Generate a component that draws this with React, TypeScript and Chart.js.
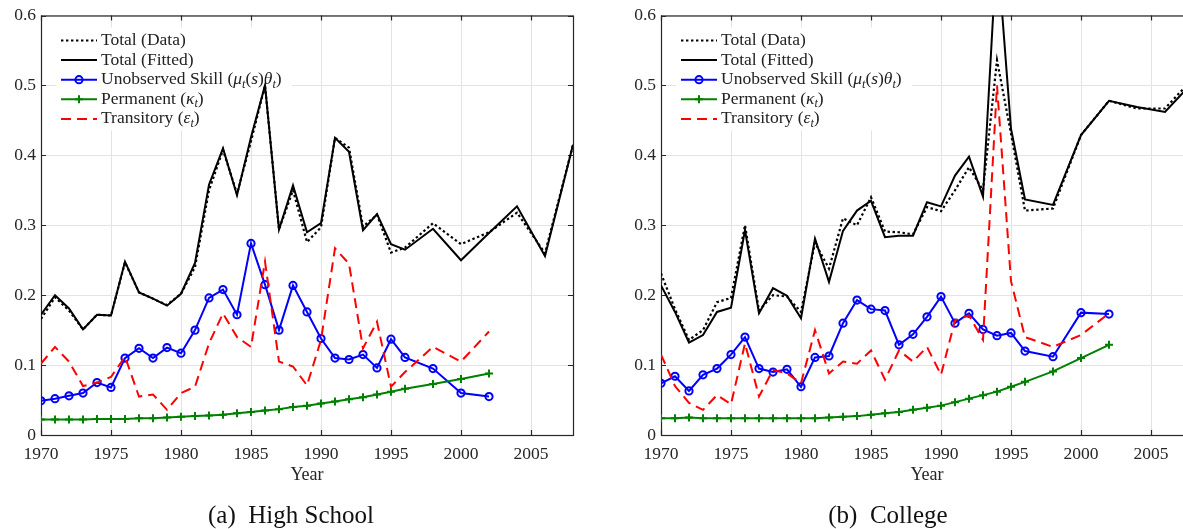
import React, { useEffect, useRef } from "react";
import { Chart, registerables } from "chart.js";

Chart.register(...registerables);

// ---------- data ----------
const yearsComp = [
  1970, 1971, 1972, 1973, 1974, 1975, 1976, 1977, 1978, 1979, 1980, 1981, 1982, 1983, 1984,
  1985, 1986, 1987, 1988, 1989, 1990, 1991, 1992, 1993, 1994, 1995, 1996, 1998, 2000, 2002,
];
const yearsTotal = [...yearsComp, 2004, 2006, 2008];

const xTickValues = [1970, 1975, 1980, 1985, 1990, 1995, 2000, 2005];
const yTickValues = [0, 0.1, 0.2, 0.3, 0.4, 0.5, 0.6];

// High School
const hsTotalData = [
  0.166, 0.197, 0.178, 0.151, 0.172, 0.171, 0.247, 0.204, 0.195, 0.186, 0.202, 0.24, 0.35, 0.408,
  0.345, 0.42, 0.5, 0.294, 0.35, 0.276, 0.297, 0.425, 0.411, 0.298, 0.315, 0.261, 0.268, 0.303,
  0.273, 0.29, 0.318, 0.26, 0.415,
];
const hsTotalFit = [
  0.172, 0.2, 0.181, 0.151, 0.172, 0.171, 0.248, 0.204, 0.195, 0.185, 0.202, 0.246, 0.358, 0.41,
  0.343, 0.426, 0.5, 0.294, 0.357, 0.29, 0.303, 0.425, 0.405, 0.293, 0.316, 0.273, 0.265, 0.295,
  0.25, 0.289, 0.327, 0.256, 0.415,
];
const hsSkill = [
  0.049, 0.052, 0.056, 0.06, 0.075, 0.068, 0.11, 0.124, 0.11, 0.125, 0.117, 0.15, 0.196, 0.208,
  0.172, 0.274, 0.215, 0.15, 0.214, 0.176, 0.138, 0.11, 0.108, 0.115, 0.096, 0.137, 0.111, 0.095,
  0.06, 0.055,
];
const hsPermanent = [
  0.022, 0.022, 0.022, 0.022, 0.023, 0.023, 0.023, 0.024, 0.024, 0.025, 0.026, 0.027, 0.028, 0.029,
  0.031, 0.033, 0.035, 0.037, 0.04, 0.042, 0.045, 0.048, 0.051, 0.054, 0.058, 0.062, 0.066, 0.073,
  0.08, 0.088,
];
const hsTransitory = [
  0.102, 0.126, 0.105, 0.07, 0.075, 0.083, 0.112, 0.055, 0.058, 0.036, 0.06, 0.069, 0.131, 0.174,
  0.14, 0.126, 0.248, 0.105, 0.098, 0.071, 0.136, 0.267, 0.245, 0.124, 0.162, 0.069, 0.09, 0.126,
  0.105, 0.148,
];

// College
const colTotalData = [
  0.231, 0.18, 0.136, 0.15, 0.19, 0.196, 0.3, 0.178, 0.2, 0.198, 0.176, 0.275, 0.238, 0.31, 0.3,
  0.34, 0.291, 0.29, 0.287, 0.326, 0.32, 0.35, 0.383, 0.35, 0.536, 0.431, 0.321, 0.324, 0.429,
  0.478, 0.467, 0.467, 0.51,
];
const colTotalFit = [
  0.214, 0.176, 0.132, 0.143, 0.176, 0.182, 0.293, 0.174, 0.21, 0.199, 0.167, 0.281, 0.219, 0.292,
  0.321, 0.335, 0.283, 0.285, 0.285, 0.333, 0.327, 0.371, 0.398, 0.341, 0.7, 0.438, 0.337, 0.329,
  0.429, 0.478, 0.469, 0.462, 0.505,
];
const colSkill = [
  0.074, 0.084, 0.063, 0.086, 0.095, 0.115, 0.14, 0.095, 0.09, 0.094, 0.069, 0.111, 0.113, 0.16,
  0.193, 0.18, 0.178, 0.129, 0.144, 0.169, 0.198, 0.16, 0.174, 0.151, 0.142, 0.146, 0.12, 0.112,
  0.175, 0.173,
];
const colPermanent = [
  0.024, 0.024, 0.025, 0.024, 0.024, 0.024, 0.024, 0.024, 0.024, 0.024, 0.024, 0.024, 0.025, 0.026,
  0.027, 0.029, 0.031, 0.033, 0.036, 0.039, 0.042, 0.047, 0.052, 0.057, 0.062, 0.069, 0.076, 0.091,
  0.11, 0.129,
];
const colTransitory = [
  0.115, 0.07, 0.046, 0.036, 0.057, 0.044, 0.131, 0.055, 0.093, 0.088, 0.074, 0.15, 0.088, 0.105,
  0.102, 0.121, 0.079, 0.121, 0.105, 0.126, 0.086, 0.164, 0.171, 0.136, 0.5, 0.22, 0.14, 0.126,
  0.143, 0.174,
];

const xAxisTitle = "Year";
const captionA = "(a)\u2002High School";
const captionB = "(b)\u2002College";

type Seg = { t: string; it?: boolean; sub?: boolean };
const legendEntries: { kind: string; segs: Seg[] }[] = [
  { kind: "data", segs: [{ t: "Total (Data)" }] },
  { kind: "fit", segs: [{ t: "Total (Fitted)" }] },
  {
    kind: "skill",
    segs: [
      { t: "Unobserved Skill (" },
      { t: "μ", it: true },
      { t: "t", it: true, sub: true },
      { t: "(" },
      { t: "s", it: true },
      { t: ")" },
      { t: "θ", it: true },
      { t: "t", it: true, sub: true },
      { t: ")" },
    ],
  },
  {
    kind: "perm",
    segs: [{ t: "Permanent (" }, { t: "κ", it: true }, { t: "t", it: true, sub: true }, { t: ")" }],
  },
  {
    kind: "trans",
    segs: [{ t: "Transitory (" }, { t: "ε", it: true }, { t: "t", it: true, sub: true }, { t: ")" }],
  },
];

// ---------- styling ----------
const FONT = '"Liberation Serif", "Times New Roman", serif';
const AXIS = "#262626";
const GRID = "#e3e3e3";
const BLUE = "#0000ff";
const GREEN = "#008000";
const RED = "#ff0000";
const DOT_DASH = [2.4, 2.6];
const RED_DASH = [10, 6];

function pts(xs: number[], ys: number[]) {
  return xs.map((x, i) => ({ x, y: ys[i] }));
}

function drawRich(ctx: CanvasRenderingContext2D, segs: Seg[], x: number, y: number, size: number) {
  let cx = x;
  for (const s of segs) {
    const sz = s.sub ? size * 0.7 : size;
    ctx.font = `${s.it ? "italic " : ""}${sz}px ${FONT}`;
    ctx.fillText(s.t, cx, s.sub ? y + size * 0.2 : y);
    cx += ctx.measureText(s.t).width;
  }
}

function drawMarker(ctx: CanvasRenderingContext2D, kind: string, x: number, y: number) {
  if (kind === "skill") {
    ctx.beginPath();
    ctx.setLineDash([]);
    ctx.strokeStyle = BLUE;
    ctx.lineWidth = 2;
    ctx.arc(x, y, 3.6, 0, Math.PI * 2);
    ctx.stroke();
  } else if (kind === "perm") {
    ctx.beginPath();
    ctx.setLineDash([]);
    ctx.strokeStyle = GREEN;
    ctx.lineWidth = 2;
    ctx.moveTo(x - 4, y);
    ctx.lineTo(x + 4, y);
    ctx.moveTo(x, y - 4);
    ctx.lineTo(x, y + 4);
    ctx.stroke();
  }
}

const framePlugin = {
  id: "matlabFrame",
  beforeDatasetsDraw(chart: any) {
    const { ctx, chartArea: a, scales } = chart;
    ctx.save();
    // legend background (hides grid)
    ctx.fillStyle = "#fff";
    ctx.fillRect(a.left + 15, a.top + 12, 236, 103);

    // axes box
    ctx.strokeStyle = AXIS;
    ctx.lineWidth = 1.2;
    ctx.setLineDash([]);
    ctx.strokeRect(a.left + 0.5, a.top + 0.5, a.right - a.left, a.bottom - a.top);

    // inward ticks
    ctx.beginPath();
    for (const v of xTickValues) {
      const px = Math.round(scales.x.getPixelForValue(v)) + 0.5;
      ctx.moveTo(px, a.bottom);
      ctx.lineTo(px, a.bottom - 5);
      ctx.moveTo(px, a.top);
      ctx.lineTo(px, a.top + 5);
    }
    for (const v of yTickValues) {
      const py = Math.round(scales.y.getPixelForValue(v)) + 0.5;
      ctx.moveTo(a.left, py);
      ctx.lineTo(a.left + 5, py);
      ctx.moveTo(a.right, py);
      ctx.lineTo(a.right - 5, py);
    }
    ctx.stroke();

    // x-axis title
    ctx.fillStyle = AXIS;
    ctx.font = `18px ${FONT}`;
    ctx.textAlign = "center";
    ctx.textBaseline = "alphabetic";
    ctx.fillText(xAxisTitle, (a.left + a.right) / 2, a.bottom + 45);

    // legend
    const x0 = a.left + 20;
    const x1 = a.left + 56;
    const tx = a.left + 60;
    ctx.textAlign = "left";
    legendEntries.forEach((e, i) => {
      const y = a.top + 25 + i * 19.6;
      ctx.beginPath();
      ctx.lineWidth = 2;
      if (e.kind === "data") {
        ctx.strokeStyle = "#000";
        ctx.setLineDash(DOT_DASH);
      } else if (e.kind === "fit") {
        ctx.strokeStyle = "#000";
        ctx.setLineDash([]);
      } else if (e.kind === "skill") {
        ctx.strokeStyle = BLUE;
        ctx.setLineDash([]);
      } else if (e.kind === "perm") {
        ctx.strokeStyle = GREEN;
        ctx.setLineDash([]);
      } else {
        ctx.strokeStyle = RED;
        ctx.setLineDash(RED_DASH);
      }
      ctx.moveTo(x0, y);
      ctx.lineTo(x1, y);
      ctx.stroke();
      drawMarker(ctx, e.kind, (x0 + x1) / 2, y);
      ctx.fillStyle = "#222";
      drawRich(ctx, e.segs, tx, y + 4.5, 17.5);
    });
    ctx.restore();
  },
};

function buildConfig(
  totalData: number[],
  totalFit: number[],
  skill: number[],
  perm: number[],
  trans: number[]
): any {
  return {
    type: "line",
    data: {
      datasets: [
        {
          label: "Transitory",
          data: pts(yearsComp, trans),
          borderColor: RED,
          borderWidth: 2,
          borderDash: RED_DASH,
          pointRadius: 0,
          tension: 0,
        },
        {
          label: "Permanent",
          data: pts(yearsComp, perm),
          borderColor: GREEN,
          borderWidth: 2,
          pointStyle: "cross",
          pointRadius: 4,
          pointBorderWidth: 2,
          pointBorderColor: GREEN,
          pointBackgroundColor: GREEN,
          tension: 0,
        },
        {
          label: "Unobserved Skill",
          data: pts(yearsComp, skill),
          borderColor: BLUE,
          borderWidth: 2,
          pointStyle: "circle",
          pointRadius: 3.6,
          pointBorderWidth: 2,
          pointBorderColor: BLUE,
          pointBackgroundColor: "rgba(0,0,0,0)",
          tension: 0,
        },
        {
          label: "Total (Fitted)",
          data: pts(yearsTotal, totalFit),
          borderColor: "#000",
          borderWidth: 2,
          pointRadius: 0,
          tension: 0,
        },
        {
          label: "Total (Data)",
          data: pts(yearsTotal, totalData),
          borderColor: "#000",
          borderWidth: 2.2,
          borderDash: DOT_DASH,
          pointRadius: 0,
          tension: 0,
        },
      ],
    },
    options: {
      responsive: false,
      animation: false,
      events: [],
      layout: { padding: { left: 0, top: 15, right: 27, bottom: 0 } },
      plugins: { legend: { display: false }, tooltip: { enabled: false } },
      scales: {
        x: {
          type: "linear",
          min: 1970,
          max: 2008,
          afterBuildTicks: (s: any) => {
            s.ticks = xTickValues.map((v) => ({ value: v }));
          },
          afterFit: (s: any) => {
            s.height = 94;
          },
          grid: { color: GRID, lineWidth: 1, drawTicks: false },
          border: { display: false },
          ticks: {
            callback: (v: any) => String(v),
            font: { family: FONT, size: 17.5 },
            color: AXIS,
            padding: 9,
            maxRotation: 0,
            autoSkip: false,
          },
        },
        y: {
          type: "linear",
          min: 0,
          max: 0.6,
          afterBuildTicks: (s: any) => {
            s.ticks = yTickValues.map((v) => ({ value: v }));
          },
          afterFit: (s: any) => {
            s.width = 41;
          },
          grid: { color: GRID, lineWidth: 1, drawTicks: false },
          border: { display: false },
          ticks: {
            callback: (v: any) => String(v),
            font: { family: FONT, size: 17.5 },
            color: AXIS,
            padding: 5,
            autoSkip: false,
          },
        },
      },
    },
    plugins: [framePlugin],
  };
}

function Panel(props: { left: number; config: () => any }) {
  const ref = useRef<HTMLCanvasElement | null>(null);
  useEffect(() => {
    if (!ref.current) return;
    const chart = new Chart(ref.current, props.config());
    return () => chart.destroy();
  }, []);
  return (
    <canvas
      ref={ref}
      width={600}
      height={529}
      style={{ position: "absolute", left: props.left, top: 0, width: 600, height: 529 }}
    />
  );
}

export default function App() {
  useEffect(() => {
    document.body.style.margin = "0";
  }, []);
  const capStyle: React.CSSProperties = {
    position: "absolute",
    top: 502,
    fontFamily: FONT,
    fontSize: 25,
    lineHeight: "25px",
    color: "#111",
    whiteSpace: "pre",
    textAlign: "center",
    width: 300,
  };
  return (
    <div
      style={{
        position: "relative",
        width: 1183,
        height: 529,
        overflow: "hidden",
        background: "#fff",
      }}
    >
      <Panel
        left={0}
        config={() => buildConfig(hsTotalData, hsTotalFit, hsSkill, hsPermanent, hsTransitory)}
      />
      <Panel
        left={620}
        config={() =>
          buildConfig(colTotalData, colTotalFit, colSkill, colPermanent, colTransitory)
        }
      />
      <div style={{ ...capStyle, left: 291 - 150 }}>{captionA}</div>
      <div style={{ ...capStyle, left: 888 - 150 }}>{captionB}</div>
    </div>
  );
}
